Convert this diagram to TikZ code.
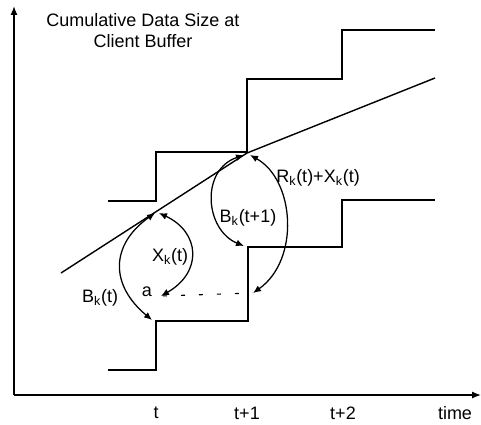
\documentclass[tikz,border=0pt]{standalone}
\usepackage{fontspec}
\setmainfont{Liberation Sans}
\usetikzlibrary{arrows.meta}

\begin{document}
\begin{tikzpicture}[
    x=0.025cm, y=-0.025cm,
    every node/.style={font=\fontsize{12.8}{15}\selectfont, inner sep=0pt, align=center},
    axis/.style={line width=0.9pt, -{Latex[length=2.2mm,width=1.7mm]}},
    stair/.style={line width=1pt},
    rateline/.style={line width=1pt},
    span/.style={line width=0.9pt, {Latex[length=2mm,width=1.7mm]}-{Latex[length=2mm,width=1.7mm]}},
    gap/.style={line width=0.8pt, dash pattern=on 1mm off 3.5mm, dash phase=-0.5mm}
]
\useasboundingbox (0,0) rectangle (481,424);

% Axes
\coordinate (origin) at (14,395);
\coordinate (ytop) at (14,6);
\coordinate (xend) at (481,395);
\draw[axis] (origin) -- (ytop);
\draw[axis] (origin) -- (xend);

\node (ylabel) at (143,31) {Cumulative Data Size at\\Client Buffer};
\node (tickt) at (156,413) {t};
\node (ticktt) at (247,413) {t+1};
\node (tickttt) at (343,413) {t+2};
\node (xlabel) at (455,413) {time};

% Staircases
\draw[stair] (108,370) -| (156,321) -| (248,247) -| (342,200) -- (435,200);
\draw[stair] (108,201) -| (156,152) -| (247,79) -| (342,30) -- (435,30);

% Rate line
\coordinate (lt1) at (247,153);
\draw[rateline] (61,273) -- (lt1) -- (435,78);

% End points of the spans
\coordinate (bt) at (152,320);
\coordinate (ltl) at (155,213);
\coordinate (ltr) at (159,213);
\coordinate (a) at (161,296);
\coordinate (lt1l) at (244,155);
\coordinate (lt1r) at (250,155);
\coordinate (bt1) at (244,246);
\coordinate (rb) at (253,293);

\draw[span] (bt) .. controls (110,285) and (110,245) .. (ltl);
\draw[span] (ltr) .. controls (200,232) and (203,272) .. (a);
\draw[span] (lt1l) .. controls (200,170) and (205,230) .. (bt1);
\draw[span] (lt1r) .. controls (295,180) and (300,260) .. (rb);
\draw[gap] (a) -- (rb);

\node (bk) at (100,298) {B\textsubscript{k}(t)};
\node (xk) at (170,257) {X\textsubscript{k}(t)};
\node (alabel) at (147,292) {a};
\node (bk1) at (248,218) {B\textsubscript{k}(t+1)};
\node (rx) at (318,178) {R\textsubscript{k}(t)+X\textsubscript{k}(t)};
\end{tikzpicture}
\end{document}
